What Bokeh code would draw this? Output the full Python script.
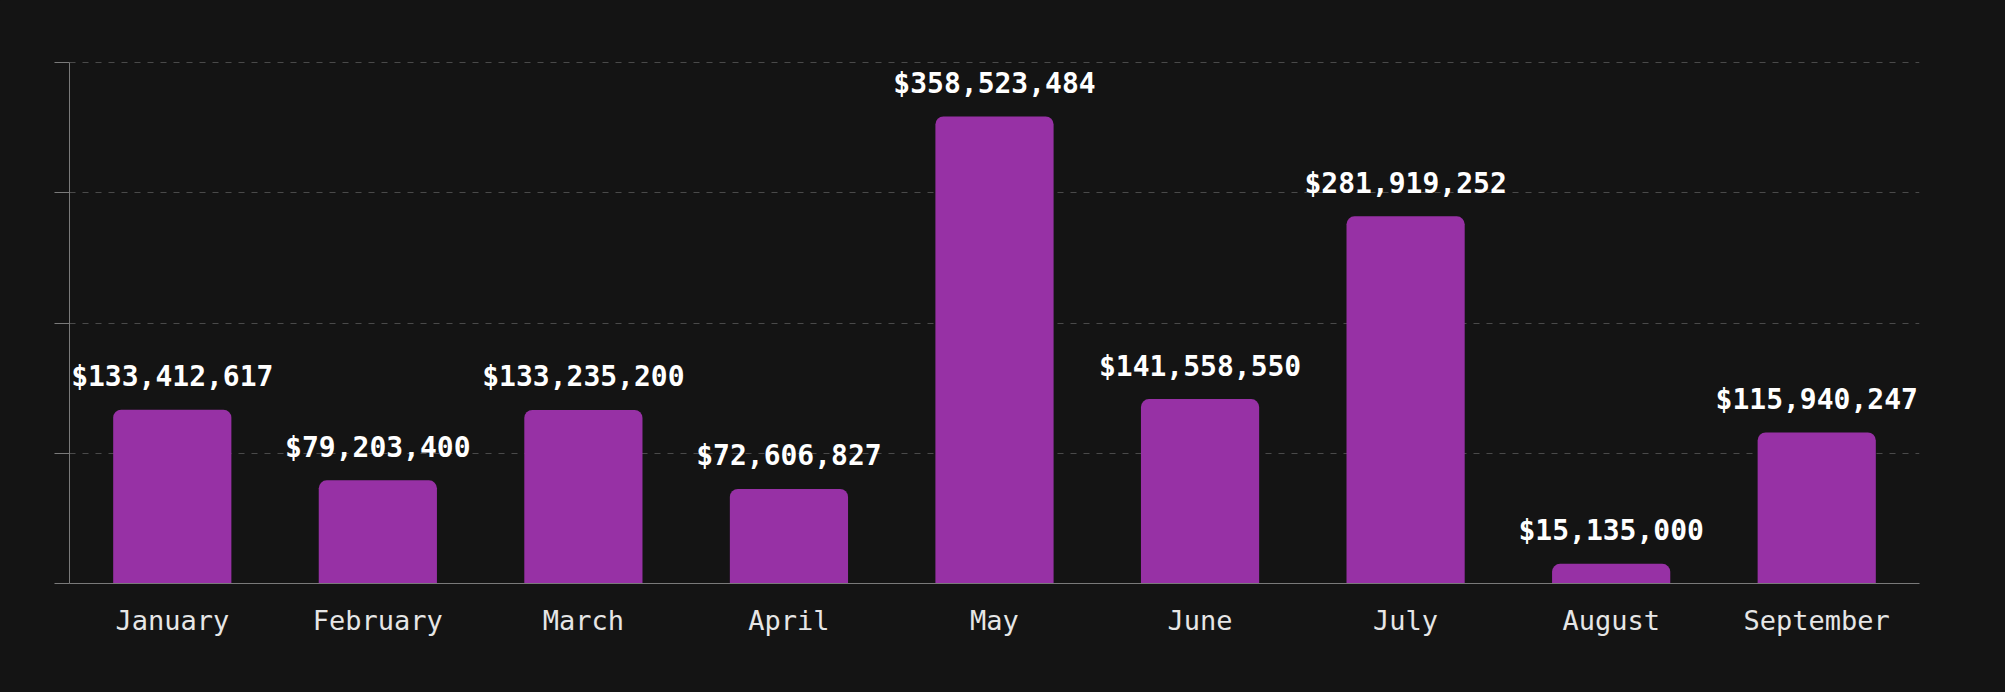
from bokeh.plotting import figure
from bokeh.models import ColumnDataSource, FixedTicker, CustomJSTickFormatter
from bokeh.core.properties import value
from bokeh.embed import file_html
from bokeh.resources import INLINE

months = ["January", "February", "March", "April", "May", "June", "July", "August", "September"]
revenue = [133412617, 79203400, 133235200, 72606827, 358523484, 141558550, 281919252, 15135000, 115940247]
y_ticks = [0, 100000000, 200000000, 300000000, 400000000]

labels = ["${:,}".format(v) for v in revenue]
src = ColumnDataSource(data=dict(month=months, revenue=revenue, label=labels))

BG = "#141414"
# one extra pixel of headroom so the 400M gridline is drawn inside the frame
y_top = y_ticks[-1] * 523.0 / 521.0
p = figure(
    x_range=months, y_range=(0, y_top),
    width=2005, height=692,
    output_backend="svg", toolbar_location=None,
    min_border_left=69, min_border_right=86, min_border_top=60, min_border_bottom=109,
    background_fill_color=BG, border_fill_color=BG,
    outline_line_color=None,
)

p.vbar(x="month", top="revenue", bottom=0, width=0.575, source=src,
       fill_color="#9731a5", line_color=None, border_radius=(8, 8, 0, 0))

p.text(x="month", y="revenue", text="label", source=src,
       text_align="center", text_baseline="alphabetic", y_offset=-33,
       text_color="#ffffff", text_font=value("DejaVu Sans Mono"),
       text_font_style="bold", text_font_size="28px")

# grid
p.xgrid.grid_line_color = None
p.ygrid.grid_line_color = "#4a4a4a"
p.ygrid.grid_line_dash = "6 7"
p.ygrid.grid_line_width = 1
p.yaxis.ticker = FixedTicker(ticks=y_ticks)

# y axis
p.yaxis.axis_line_color = "#7a7a7a"
p.yaxis.major_tick_line_color = "#7a7a7a"
p.yaxis.major_tick_out = 15
p.yaxis.major_tick_in = 0
p.yaxis.minor_tick_line_color = None
p.yaxis.formatter = CustomJSTickFormatter(code="return ''")
p.yaxis.bounds = (0, y_ticks[-1])

# x axis
p.xaxis.axis_line_color = "#7a7a7a"
p.xaxis.major_tick_line_color = None
p.xaxis.minor_tick_line_color = None
p.xaxis.major_label_text_color = "#e6e6e6"
p.xaxis.major_label_text_font = "DejaVu Sans Mono"
p.xaxis.major_label_text_font_size = "27px"
p.xaxis.major_label_standoff = 15

html = file_html(p, INLINE)
style = "<style>html, body { background-color: #141414 !important; }</style>"
if "</head>" in html:
    html = html.replace("</head>", style + "</head>", 1)
else:
    html = style + html
open("out.html", "w").write(html)
